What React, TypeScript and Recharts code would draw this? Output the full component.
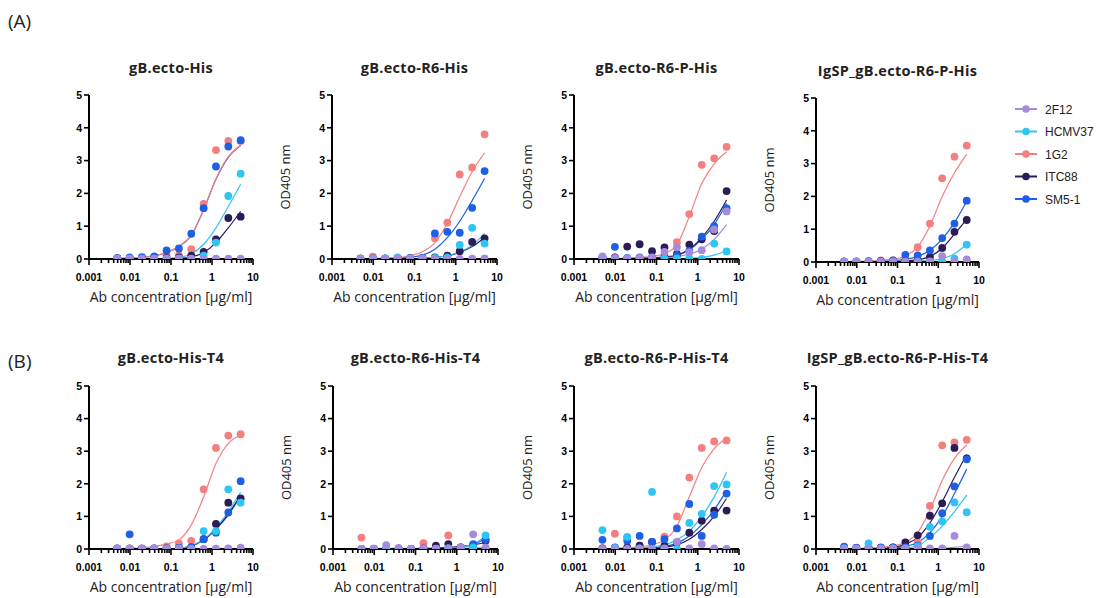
import React from "react";
import { ComposedChart, Line, Scatter, XAxis, YAxis } from "recharts";

// ---------- data ----------
const conc = [0.0049, 0.0098, 0.0195, 0.039, 0.078, 0.156, 0.3125, 0.625, 1.25, 2.5, 5];
const antibodies = ["2F12", "HCMV37", "1G2", "ITC88", "SM5-1"];
const colors = ["#a58bdc", "#2ec4f3", "#f47f80", "#2b1c57", "#1d5fe5"];

const xTicks = [
  0.001, 0.002, 0.003, 0.004, 0.005, 0.006, 0.007, 0.008, 0.009,
  0.01, 0.02, 0.03, 0.04, 0.05, 0.06, 0.07, 0.08, 0.09,
  0.1, 0.2, 0.3, 0.4, 0.5, 0.6, 0.7, 0.8, 0.9,
  1, 2, 3, 4, 5, 6, 7, 8, 9, 10,
];
const xMajorTicks = [0.001, 0.01, 0.1, 1, 10];
const xMajorLabels = ["0.001", "0.01", "0.1", "1", "10"];
const yTicks = [0, 1, 2, 3, 4, 5];

// order of inner arrays: 2F12, HCMV37, 1G2, ITC88, SM5-1
const a1Points = [
  [0.01, 0.01, 0.01, 0.01, 0.01, 0.01, 0.01, 0.01, 0.01, 0.01, 0.01],
  [0.01, 0.01, 0, 0.01, 0, 0.02, 0, 0.1, 0.5, 1.92, 2.6],
  [0.02, 0.01, 0.03, 0.06, 0.12, 0.12, 0.3, 1.68, 3.32, 3.6, 3.6],
  [0.02, 0.02, 0.03, 0.03, 0.03, 0.05, 0.1, 0.22, 0.6, 1.25, 1.29],
  [0.03, 0.05, 0.06, 0.08, 0.26, 0.32, 0.77, 1.55, 2.82, 3.43, 3.62],
];
const a1Curves = [
  [0, 0, 0, 0, 0, 0, 0, 0, 0, 0, 0],
  [0, 0, 0, 0.01, 0.02, 0.05, 0.15, 0.45, 0.95, 1.6, 2.28],
  [0.02, 0.03, 0.05, 0.1, 0.2, 0.38, 0.72, 1.5, 2.45, 3.12, 3.47],
  [0, 0, 0, 0, 0.01, 0.02, 0.06, 0.2, 0.5, 0.95, 1.45],
  [0.02, 0.03, 0.05, 0.1, 0.2, 0.38, 0.72, 1.5, 2.43, 3.1, 3.46],
];

const a2Points = [
  [0, 0.01, 0, 0.02, 0.01, 0.01, 0, 0.01, 0, 0.01, 0.02],
  [0, 0.01, 0.02, 0.05, 0.02, 0.02, 0.03, 0.05, 0.43, 0.95, 0.47],
  [0.02, 0.07, 0.02, 0.02, 0.03, 0.03, 0.63, 1.11, 2.58, 2.79, 3.8],
  [0.01, 0.01, 0.01, 0.02, 0.02, 0.03, 0.05, 0.1, 0.24, 0.52, 0.63],
  [0.01, 0.02, 0.02, 0.03, 0.03, 0.04, 0.78, 0.83, 0.8, 1.56, 2.68],
];
const a2Curves = [
  [0, 0, 0, 0, 0, 0, 0, 0, 0, 0, 0],
  [0, 0, 0, 0, 0.01, 0.02, 0.05, 0.1, 0.22, 0.42, 0.78],
  [0.01, 0.02, 0.03, 0.05, 0.1, 0.22, 0.5, 1.09, 1.9, 2.66, 3.24],
  [0, 0, 0, 0, 0.01, 0.02, 0.05, 0.1, 0.2, 0.38, 0.65],
  [0, 0, 0.01, 0.02, 0.05, 0.12, 0.3, 0.65, 1.15, 1.78, 2.46],
];

const a3Points = [
  [0.08, 0.03, 0.01, 0.03, 0.05, 0.22, 0.35, 0.2, 0.27, 0.9, 1.45],
  [0.02, 0.01, 0.01, 0.01, 0.01, 0.01, 0.02, 0.02, 0, 0.47, 0.23],
  [0.02, 0.05, 0.01, 0.01, 0.05, 0.1, 0.51, 1.37, 2.87, 3.07, 3.42],
  [0.03, 0.05, 0.38, 0.45, 0.24, 0.35, 0.15, 0.44, 0.6, 0.85, 2.07],
  [0.05, 0.37, 0.03, 0.05, 0.05, 0.08, 0.1, 0.25, 0.68, 1.0, 1.54],
];
const a3Curves = [
  [0, 0, 0, 0, 0.01, 0.03, 0.07, 0.15, 0.3, 0.6, 1.05],
  [0, 0, 0, 0, 0, 0, 0.01, 0.02, 0.05, 0.12, 0.25],
  [0.01, 0.02, 0.03, 0.05, 0.08, 0.17, 0.43, 1.3, 2.3, 2.9, 3.27],
  [0.01, 0.01, 0.02, 0.03, 0.04, 0.06, 0.12, 0.3, 0.65, 1.15, 1.8],
  [0, 0, 0.01, 0.01, 0.02, 0.04, 0.1, 0.28, 0.6, 1.05, 1.7],
];

const a4Points = [
  [0.01, 0.01, 0.01, 0.01, 0.01, 0.01, 0.01, 0.02, 0.18, 0.02, 0.08],
  [0, 0, 0, 0, 0, 0, 0, 0.01, 0.02, 0.1, 0.53],
  [0.02, 0.02, 0.03, 0.05, 0.05, 0.1, 0.45, 1.17, 2.55, 3.21, 3.55],
  [0.01, 0.01, 0.01, 0.02, 0.02, 0.03, 0.05, 0.15, 0.43, 0.92, 1.28],
  [0.01, 0.01, 0.02, 0.03, 0.05, 0.22, 0.2, 0.35, 0.73, 1.17, 1.87],
];
const a4Curves = [
  [0, 0, 0, 0, 0, 0, 0, 0, 0, 0, 0],
  [0, 0, 0, 0, 0, 0.01, 0.02, 0.05, 0.1, 0.25, 0.55],
  [0.01, 0.02, 0.03, 0.05, 0.09, 0.18, 0.46, 1.1, 2.0, 2.72, 3.28],
  [0, 0, 0, 0.01, 0.01, 0.03, 0.07, 0.17, 0.42, 0.85, 1.3],
  [0, 0, 0.01, 0.02, 0.04, 0.08, 0.17, 0.36, 0.7, 1.2, 1.85],
];

const b1Points = [
  [0.02, 0.01, 0.01, 0.02, 0.01, 0.01, 0, 0, 0.01, 0.02, 0.04],
  [0.01, 0.01, 0, 0, 0.01, 0.02, 0, 0.55, 0.55, 1.83, 1.42],
  [0.02, 0.02, 0.02, 0.02, 0.08, 0.17, 0.25, 1.83, 3.1, 3.48, 3.52],
  [0.01, 0.01, 0.01, 0.01, 0.02, 0.03, 0.05, 0.3, 0.77, 1.42, 1.55],
  [0.01, 0.45, 0.01, 0.02, 0.02, 0.03, 0.05, 0.3, 0.5, 1.12, 2.08],
];
const b1Curves = [
  [0, 0, 0, 0, 0, 0, 0, 0, 0, 0, 0],
  [0, 0, 0, 0, 0, 0.02, 0.1, 0.3, 0.65, 1.15, 1.75],
  [0.01, 0.02, 0.04, 0.08, 0.15, 0.28, 0.74, 1.6, 2.62, 3.24, 3.49],
  [0, 0, 0, 0, 0, 0.02, 0.09, 0.28, 0.62, 1.08, 1.65],
  [0, 0, 0, 0, 0, 0.02, 0.09, 0.28, 0.6, 1.05, 1.62],
];

const b2Points = [
  [0, 0.01, 0.12, 0.03, 0, 0.02, 0.01, 0.02, 0.05, 0.45, 0.05],
  [0, 0, 0, 0.01, 0, 0, 0, 0.02, 0.03, 0.05, 0.42],
  [0.35, 0.01, 0.01, 0.01, 0.01, 0.18, 0.01, 0.42, 0.02, 0.02, 0],
  [0, 0, 0, 0, 0, 0.02, 0.1, 0.15, 0.05, 0.1, 0.25],
  [0, 0, 0, 0, 0, 0, 0, 0.02, 0.05, 0.15, 0.3],
];
const b2Curves = [
  [0, 0, 0, 0, 0, 0, 0, 0.01, 0.02, 0.03, 0.05],
  [0, 0, 0, 0, 0, 0, 0.01, 0.02, 0.05, 0.15, 0.38],
  [0.02, 0.02, 0.02, 0.02, 0.02, 0.02, 0.02, 0.02, 0.02, 0.02, 0.02],
  [0, 0, 0, 0, 0.01, 0.02, 0.03, 0.05, 0.08, 0.13, 0.2],
  [0, 0, 0, 0, 0, 0, 0.01, 0.02, 0.05, 0.13, 0.32],
];

const b3Points = [
  [0, 0.01, 0, 0.01, 0, 0.02, 0.22, 0.02, 0.15, 0.02, 0],
  [0.58, 0.03, 0.37, 0.02, 1.75, 0, 0, 0.8, 1.08, 1.93, 1.98],
  [0.02, 0.47, 0.35, 0.1, 0.2, 0.38, 1.0, 2.19, 3.1, 3.3, 3.33],
  [0.02, 0.03, 0.05, 0.1, 0.22, 0.1, 0.2, 0.5, 0.87, 1.18, 1.18],
  [0.28, 0.05, 0.25, 0.4, 0.22, 0.3, 0.63, 1.38, 0.4, 1.05, 1.7],
];
const b3Curves = [
  [0, 0, 0, 0, 0, 0, 0, 0, 0.01, 0.01, 0.02],
  [0, 0.01, 0.02, 0.04, 0.07, 0.13, 0.28, 0.55, 1.0, 1.6, 2.35],
  [0.01, 0.02, 0.04, 0.07, 0.13, 0.28, 0.7, 1.6, 2.5, 3.08, 3.4],
  [0, 0, 0, 0.01, 0.02, 0.05, 0.13, 0.3, 0.6, 1.0, 1.55],
  [0, 0, 0.01, 0.02, 0.04, 0.08, 0.18, 0.4, 0.75, 1.2, 1.8],
];

const b4Points = [
  [0.01, 0.01, 0.01, 0.01, 0.01, 0.01, 0.02, 0.02, 0.02, 0.4, 0.05],
  [0.02, 0.01, 0.17, 0.02, 0.02, 0.02, 0.08, 0.68, 0.85, 1.43, 1.13],
  [0.05, 0.04, 0.05, 0.05, 0.05, 0.05, 0.2, 1.32, 3.18, 3.27, 3.35],
  [0.03, 0.03, 0.03, 0.04, 0.05, 0.2, 0.42, 1.02, 1.4, 3.1, 2.78],
  [0.07, 0.03, 0.03, 0.03, 0.03, 0.05, 0.1, 0.4, 1.1, 1.92, 2.75],
];
const b4Curves = [
  [0, 0, 0, 0, 0, 0, 0, 0.01, 0.02, 0.05, 0.1],
  [0, 0, 0, 0, 0.01, 0.03, 0.1, 0.35, 0.7, 1.15, 1.65],
  [0.01, 0.02, 0.03, 0.05, 0.1, 0.2, 0.5, 1.2, 2.1, 2.78, 3.19],
  [0, 0, 0.01, 0.02, 0.05, 0.15, 0.35, 0.8, 1.45, 2.2, 2.9],
  [0, 0, 0, 0.01, 0.03, 0.08, 0.2, 0.5, 1.0, 1.7, 2.45],
];

const panelTitles = [
  "gB.ecto-His", "gB.ecto-R6-His", "gB.ecto-R6-P-His", "IgSP_gB.ecto-R6-P-His",
  "gB.ecto-His-T4", "gB.ecto-R6-His-T4", "gB.ecto-R6-P-His-T4", "IgSP_gB.ecto-R6-P-His-T4",
];
const rowLabels = ["(A)", "(B)"];
const xLabel = "Ab concentration [µg/ml]";
const yLabel = "OD405 nm";

// ---------- layout ----------
const FONT = "'Open Sans', 'Noto Sans', sans-serif";
const TICK_FONT = "'Liberation Sans', Arial, sans-serif";
const lineOrder = [4, 3, 1, 0, 2];
const dotOrder = [2, 3, 4, 1, 0];

const panels = [
  { points: a1Points, curves: a1Curves, x0: 89, x1: 253, yTop: 95, yBot: 259, titleY: 68, yLab: false },
  { points: a2Points, curves: a2Curves, x0: 332, x1: 497, yTop: 95, yBot: 259, titleY: 68, yLab: true },
  { points: a3Points, curves: a3Curves, x0: 574, x1: 739, yTop: 95, yBot: 259, titleY: 68, yLab: true },
  { points: a4Points, curves: a4Curves, x0: 816, x1: 979, yTop: 98, yBot: 262, titleY: 71, yLab: true },
  { points: b1Points, curves: b1Curves, x0: 89, x1: 253, yTop: 386, yBot: 549, titleY: 358, yLab: false },
  { points: b2Points, curves: b2Curves, x0: 333, x1: 498, yTop: 386, yBot: 549, titleY: 358, yLab: true },
  { points: b3Points, curves: b3Curves, x0: 574, x1: 739, yTop: 386, yBot: 549, titleY: 358, yLab: true },
  { points: b4Points, curves: b4Curves, x0: 816, x1: 979, yTop: 386, yBot: 549, titleY: 358, yLab: true },
];

const L = 60;
const T = 10;
const R = 15;
const B = 50;

function XTick(props: any) {
  const { x, y, payload } = props;
  const idx = xMajorTicks.indexOf(payload.value);
  const major = idx >= 0;
  return (
    <g>
      <line x1={x} x2={x} y1={y} y2={y + (major ? 6 : 4)} stroke="#000" strokeWidth={1.6} />
      {major && (
        <text x={x} y={y + 22} textAnchor="middle" fontSize={10.5} fontWeight="bold" fontFamily={TICK_FONT} fill="#000">
          {xMajorLabels[idx]}
        </text>
      )}
    </g>
  );
}

function Panel({ p }: { p: any }) {
  const w = p.x1 - p.x0 + L + R;
  const h = p.yBot - p.yTop + T + B;
  return (
    <div style={{ position: "absolute", left: p.x0 - L, top: p.yTop - T, width: w, height: h }}>
      <ComposedChart width={w} height={h} margin={{ top: T, right: R, bottom: 0, left: 0 }}>
        <XAxis
          dataKey="x"
          type="number"
          scale="log"
          domain={[0.001, 10]}
          allowDataOverflow
          ticks={xTicks}
          interval={0}
          tickSize={0}
          tickMargin={0}
          tick={<XTick />}
          height={B}
          axisLine={{ stroke: "#000", strokeWidth: 2 }}
        />
        <YAxis
          dataKey="y"
          type="number"
          domain={[0, 5]}
          allowDataOverflow
          ticks={yTicks}
          interval={0}
          width={L}
          tickSize={5}
          tickMargin={2}
          tick={{ fontSize: 10.5, fontWeight: "bold", fill: "#000", fontFamily: TICK_FONT }}
          tickLine={{ stroke: "#000", strokeWidth: 1.6 }}
          axisLine={{ stroke: "#000", strokeWidth: 2 }}
        />
        {lineOrder.map((i) => (
          <Line
            key={"l" + i}
            data={conc.map((c, k) => ({ x: c, y: p.curves[i][k] }))}
            dataKey="y"
            type="monotone"
            stroke={colors[i]}
            strokeWidth={1.2}
            dot={false}
            isAnimationActive={false}
          />
        ))}
        {dotOrder.map((i) => (
          <Scatter
            key={"s" + i}
            name={antibodies[i]}
            data={conc.map((c, k) => ({ x: c, y: p.points[i][k] }))}
            dataKey="y"
            fill={colors[i]}
            isAnimationActive={false}
            shape={(sp: any) => <circle cx={sp.cx} cy={sp.cy} r={3.9} fill={colors[i]} />}
          />
        ))}
      </ComposedChart>
    </div>
  );
}

export default function App() {
  return (
    <div style={{ position: "absolute", left: 0, top: 0, width: 1098, height: 598, background: "#fff", overflow: "hidden" }}>
      {panels.map((p, i) => (
        <Panel key={i} p={p} />
      ))}
      <svg width={1098} height={598} style={{ position: "absolute", left: 0, top: 0, pointerEvents: "none" }}>
        <text x={8} y={28} fontSize={19} fontFamily={FONT} fill="#222">{rowLabels[0]}</text>
        <text x={8} y={368} fontSize={19} fontFamily={FONT} fill="#222">{rowLabels[1]}</text>
        {panels.map((p, i) => (
          <g key={i}>
            <text
              x={(p.x0 + p.x1) / 2}
              y={p.titleY + 5}
              textAnchor="middle"
              fontSize={14.5}
              fontWeight="bold"
              fontFamily={FONT}
              fill="#222"
              letterSpacing={0.3}
            >
              {panelTitles[i]}
            </text>
            <text
              x={(p.x0 + p.x1) / 2}
              y={p.yBot + 43}
              textAnchor="middle"
              fontSize={14}
              fontFamily={FONT}
              fill="#222"
            >
              {xLabel}
            </text>
            {p.yLab && (
              <text
                transform={`translate(${p.x0 - 42}, ${(p.yTop + p.yBot) / 2}) rotate(-90)`}
                textAnchor="middle"
                fontSize={13}
                fontFamily={FONT}
                fill="#222"
              >
                {yLabel}
              </text>
            )}
          </g>
        ))}
        {antibodies.map((a, i) => {
          const y = 109 + i * 22.5;
          return (
            <g key={a}>
              <line x1={1015} x2={1037} y1={y} y2={y} stroke={colors[i]} strokeWidth={2} />
              <circle cx={1026} cy={y} r={3.8} fill={colors[i]} />
              <text x={1045} y={y + 4.5} fontSize={12} fontFamily={TICK_FONT} fill="#222">{a}</text>
            </g>
          );
        })}
      </svg>
    </div>
  );
}
